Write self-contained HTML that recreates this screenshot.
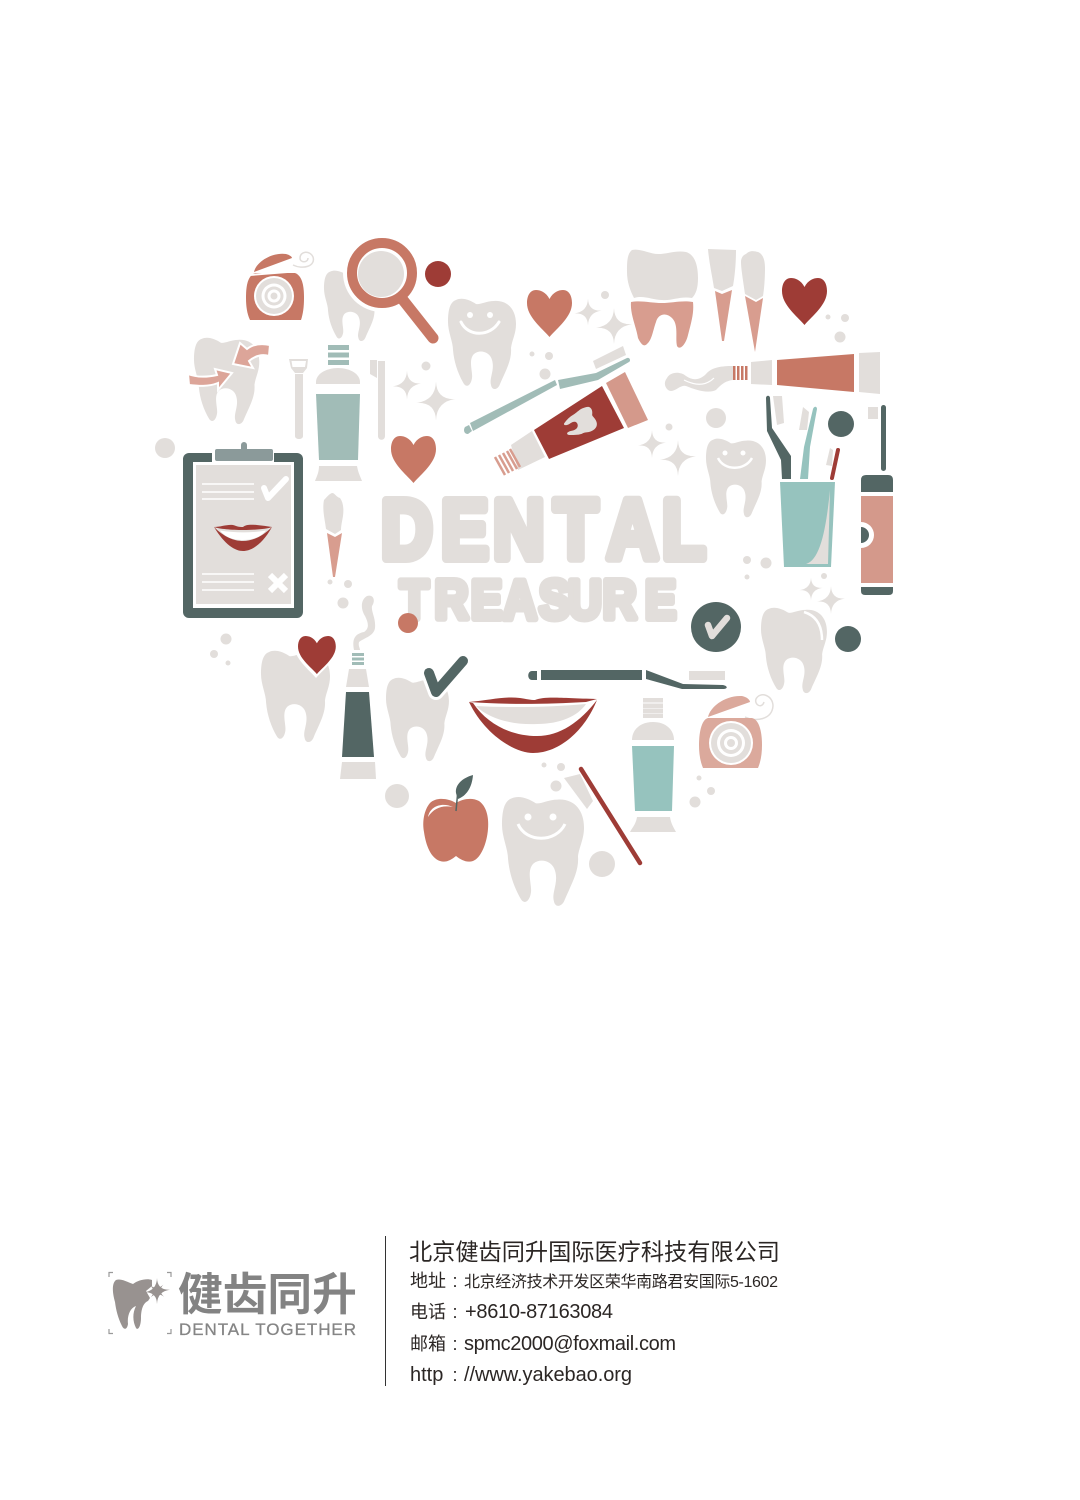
<!DOCTYPE html>
<html lang="zh">
<head>
<meta charset="utf-8">
<title>Dental Treasure</title>
<style>
html,body{margin:0;padding:0;background:#fff;width:1080px;height:1500px;overflow:hidden}
svg{display:block}
.g{fill:#e2dedb}.d{fill:#536664}.t{fill:#c77865}.s{fill:#d89d8f}.r{fill:#9e3c36}.q{fill:#96c3be}.q2{fill:#a1bcb7}
</style>
</head>
<body>
<svg width="1080" height="1500" viewBox="0 0 1080 1500" xmlns="http://www.w3.org/2000/svg">
<defs>
<path id="tooth" d="M8,2 C14,-1 22,2 28,6 C32,7 38,3 46,3 C60,2 68,12 68,26 C68,36 64,42 63,50 C64,62 58,72 52,86 C50,92 44,93 43,87 C41,80 47,72 44,62 C42,54 32,51 26,56 C20,62 25,74 24,80 C23,87 19,90 16,86 C10,76 6,64 5,52 C5,44 0,34 0,24 C0,12 2,4 8,2Z"/>
<path id="heart" d="M22.5,9 C19,2 13,0 9,0 C3,0 0,6 0,13 C0,27 15,38 22.5,47 C30,38 45,27 45,13 C45,6 42,0 36,0 C32,0 26,2 22.5,9Z"/>
<path id="sparkle" d="M0,-10 Q.3,-.5 10,-1 Q.3,.3 0,10 Q-.3,.5 -10,1 Q-.3,-.3 0,-10Z"/>
</defs>
<rect width="1080" height="1500" fill="#fff"/>

<g>
<g class="g">
<circle cx="165" cy="448" r="10"/><circle cx="426" cy="366" r="4.5"/><circle cx="330" cy="582" r="2.5"/><circle cx="348" cy="584" r="4"/><circle cx="343" cy="603" r="5.5"/>
<circle cx="605" cy="295" r="4"/><circle cx="532" cy="354" r="2.5"/><circle cx="549" cy="356" r="4"/><circle cx="545" cy="374" r="5.5"/><circle cx="828" cy="317" r="2.5"/><circle cx="845" cy="318" r="4"/><circle cx="840" cy="337" r="5.5"/><circle cx="716" cy="418" r="10"/><circle cx="669" cy="427" r="3.5"/><circle cx="747" cy="560" r="4"/><circle cx="766" cy="563" r="5.5"/><circle cx="747" cy="577" r="2.5"/><circle cx="824" cy="576" r="3"/>
<circle cx="226" cy="639" r="5.5"/><circle cx="214" cy="654" r="4"/><circle cx="228" cy="663" r="2.5"/><circle cx="397" cy="796" r="12"/>
<circle cx="544" cy="765" r="2.5"/><circle cx="561" cy="767" r="4"/><circle cx="556" cy="786" r="5.5"/><circle cx="602" cy="864" r="13"/><circle cx="699" cy="778" r="2.5"/><circle cx="711" cy="791" r="4"/><circle cx="695" cy="802" r="5.5"/>
</g>
<circle class="r" cx="438" cy="274" r="13"/>
<circle class="d" cx="841" cy="424" r="13"/>
<circle class="d" cx="848" cy="639" r="13"/>

<g class="g">
<use href="#sparkle" transform="translate(407,385) scale(1.45)"/><use href="#sparkle" transform="translate(436,401) scale(1.95)"/>
<use href="#sparkle" transform="translate(588,312) scale(1.35)"/><use href="#sparkle" transform="translate(614,326) scale(1.8)"/>
<use href="#sparkle" transform="translate(652,444) scale(1.4)"/><use href="#sparkle" transform="translate(678,458) scale(1.8)"/>
<use href="#sparkle" transform="translate(811,589) scale(1.15)"/><use href="#sparkle" transform="translate(831,600) scale(1.4)"/>
</g>

<g>
<use href="#tooth" class="g" transform="translate(448,298)"/>
<circle cx="470" cy="315" r="3" fill="#fff"/><circle cx="490" cy="315" r="3" fill="#fff"/>
<path d="M461,322 C468,337 490,337 499,322" fill="none" stroke="#fff" stroke-width="3" stroke-linecap="round"/>
</g>

<g>
<use href="#tooth" class="g" transform="translate(324,270) scale(.8,.78)"/>
<line x1="403" y1="300" x2="433" y2="338" stroke="#fff" stroke-width="16" stroke-linecap="round"/>
<circle cx="382" cy="273" r="39" fill="#fff"/>
<line x1="403" y1="300" x2="433" y2="338" stroke="#c77865" stroke-width="11" stroke-linecap="round"/>
<circle cx="382" cy="273" r="30" fill="#fff" stroke="#c77865" stroke-width="10"/>
<circle cx="381" cy="274" r="23" class="g"/>
</g>

<g>
<path d="M293,265 C303,270 316,266 313,257 C310,250 300,251 300,258 C300,263 308,263 308,258" fill="none" stroke="#e2dedb" stroke-width="1.5"/>
<path class="t" d="M255,273 L295,273 C303,276 304,288 304,298 C304,307 303,314 301,320 L250,320 C247,314 246,306 246,298 C246,288 247,276 255,273Z"/>
<path d="M250,275 L300,271" stroke="#fff" stroke-width="2"/>
<path class="t" d="M254,272 C256,262 272,252 286,254 C290,255 292,257 292,258 L254,272Z"/>
<circle cx="274" cy="296" r="20" fill="#fff"/><circle cx="274" cy="296" r="18" class="g"/><circle cx="274" cy="296" r="12.5" fill="#fff"/><circle cx="274" cy="296" r="9.5" class="g"/><circle cx="274" cy="296" r="6.5" fill="#fff"/><circle cx="274" cy="296" r="3.5" class="g"/>
</g>

<g>
<use href="#tooth" class="g" transform="translate(194,337) scale(.96,.957)"/>
<path fill="#dca599" stroke="#fff" stroke-width="2" d="M188,374 C198,378 208,377 217,375 L215,369 L232,373 L218,390 L218,383 C208,387 198,386 189,385Z"/>
<path fill="#dca599" stroke="#fff" stroke-width="2" d="M270,345 C260,343 252,345 247,349 L240,343 L233,364 L253,368 L249,361 C255,356 262,354 269,356Z"/>
</g>

<g>
<g class="q2"><rect x="328" y="345" width="21" height="5"/><rect x="328" y="352.5" width="21" height="5"/><rect x="328" y="360" width="21" height="5"/></g>
<path class="g" d="M316,384 L316,382 C316,374 326,368 338,368 C350,368 360,374 360,382 L360,384Z"/>
<path class="q2" d="M316,394 L360,394 L358,460 L319,460Z"/>
<path class="g" d="M319,466 L357,466 C358,472 360,476 362,481 L315,481 C317,476 319,472 319,466Z"/>
</g>

<g class="g">
<path fill-rule="evenodd" d="M289,359 L308,359 L307,368 L303,373 L295,373 L291,368Z M291.500,361 L292.500,367 L305,367 L306,361Z"/>
<path d="M295,374 L303,374 L303,436 C303,440 295,440 295,436Z"/>
<path d="M370,360 L377,360 L377,378 L370,374Z"/><path d="M378,361 L385,361 L385,436 C385,441 378,441 378,436Z"/>
</g>

<use href="#heart" class="t" transform="translate(391,436)"/>
<use href="#heart" class="t" transform="translate(527,290)"/>
<use href="#heart" class="r" transform="translate(782,278)"/>

<g>
<rect class="d" x="183" y="453" width="120" height="165" rx="6"/>
<rect x="193" y="462" width="101" height="146" fill="#fff"/>
<rect class="g" x="196" y="465" width="95" height="139"/>
<rect x="212" y="452" width="62" height="11" fill="#fff"/>
<rect x="241" y="442" width="6" height="10" rx="3" fill="#8b9a9a"/>
<rect x="215" y="449" width="58" height="12" rx="2" fill="#8b9a9a"/>
<g stroke="#fff" stroke-width="1.500"><line x1="202" y1="484" x2="254" y2="484"/><line x1="202" y1="492" x2="254" y2="492"/><line x1="202" y1="499" x2="254" y2="499"/><line x1="202" y1="574" x2="254" y2="574"/><line x1="202" y1="582" x2="254" y2="582"/><line x1="202" y1="590" x2="254" y2="590"/></g>
<path d="M264,488 L268,498 L286,479" fill="none" stroke="#fff" stroke-width="6" stroke-linecap="round" stroke-linejoin="round"/>
<path d="M270,575 L286,591 M286,575 L270,591" stroke="#fff" stroke-width="6"/>
<path class="r" d="M214,527 C225,545 235,551 243,551 C251,551 262,545 272,527 C262,537 252,541 243,541 C234,541 224,537 214,527Z"/>
<path class="r" d="M214,527 C222,527 230,523 236,526 C239,527 241,527 243,527 C247,523 258,525 272,527 C262,531 225,531 214,527 Z"/>
<path d="M220,530.500 C235,533 252,533 266,530.500 C260,538 251,540 243,540 C234,540 226,538 220,530.500Z" fill="#fff"/>
</g>

<g>
<path class="g" d="M332,493 C335,493 336,497 340,498 C343,502 344,508 343,516 C342,522 341,526 341,530 L335,534 L326,529 C325,520 322,510 324,500 C327,497 329,494 332,493Z"/>
<path class="s" d="M327,533 L335,537 L342,533 L335,577 L333,577Z"/>
</g>

<g>
<path class="g" d="M632,250 C640,248 650,254 658,254 C668,254 676,250 686,252 C696,255 698,268 698,278 C698,288 696,294 692,298 C680,296 672,301 662,300 C652,300 644,295 634,298 C630,290 627,282 627,272 C627,262 627,254 632,250Z"/>
<path class="s" d="M631,302 C641,300 651,303 662,303 C672,303 682,300 693,302 C694,312 692,320 688,335 C686,344 680,351 677,346 C675,338 679,325 672,318 C666,312 658,314 656,322 C653,330 652,340 647,344 C643,348 640,342 638,338 C636,326 630,314 631,302Z"/>
</g>
<g>
<path class="g" d="M708,249 L736,250 C736,262 735,275 733,286 L722,291 L714,288 C712,275 709,262 708,249Z"/>
<path class="s" d="M715,291 L722,294 L732,290 L724,341 L722,341Z"/>
<path class="g" d="M746,254 C750,250 754,251 758,252 C763,254 765,260 765,268 C765,280 764,290 763,296 L756,300 L745,294 C743,280 741,268 741,262 C741,258 743,255 746,254Z"/>
<path class="s" d="M745,296 L756,302 L763,298 L755,352Z"/>
</g>

<g>
<path class="q2" d="M465,427 L469,425 L472,431 L468,434 C464,434 463,430 465,427Z"/>
<path class="q2" d="M470,423 L555,380 L557,385 L473,431Z"/>
<path class="q2" d="M558,380 L596,373 L627,358 C630,357 631,361 629,362 L598,380 L560,389Z"/>
<path class="g" d="M593,361 L623,346 L626,355 L596,369Z"/>
</g>

<g>
<path class="r" d="M534,430 L602,386 L624,428 L549,459Z"/>
<path fill="#d4998b" d="M606,383 L625,372 L648,420 L628,428Z"/>
<path class="g" d="M511,445 L532,431 L545,457 L518,470Z"/>
<g stroke="#d89d8f" stroke-width="2.500"><line x1="495" y1="457" x2="505" y2="475"/><line x1="499" y1="455" x2="509" y2="473"/><line x1="503" y1="453" x2="513" y2="471"/><line x1="507" y1="451" x2="517" y2="469"/><line x1="510" y1="449" x2="520" y2="467"/></g>
<use href="#tooth" class="g" transform="translate(580,423) rotate(65) scale(.36) translate(-34,-46)"/>
</g>

<g>
<path class="g" d="M667,378 C670,372 680,371 686,376 C693,381 700,380 706,374 C712,367 722,366 733,366 L733,380 C724,381 720,386 716,390 C708,394 696,390 686,386 C680,384 674,394 668,390 C664,386 664,382 667,378Z"/>
<path d="M684,380 C696,386 706,386 714,378" stroke="#fff" stroke-width="1.200" fill="none"/>
<g class="t"><rect x="733" y="366" width="2.500" height="14"/><rect x="737" y="366" width="2.500" height="14"/><rect x="741" y="366" width="2.500" height="14"/><rect x="745" y="366" width="2.500" height="14"/></g>
<path class="g" d="M751,362 L772,360 L772,385 L751,384Z"/>
<path class="t" d="M777,360 L854,354 L854,392 L777,385Z"/>
<path class="g" d="M859,353 L880,352 L880,394 L859,392Z"/>
</g>

<g>
<use href="#tooth" class="g" transform="translate(706,438) scale(.882,.87)"/>
<circle cx="725" cy="453" r="2.500" fill="#fff"/><circle cx="743" cy="453" r="2.500" fill="#fff"/>
<path d="M718,458 C724,471 745,471 752,458" fill="none" stroke="#fff" stroke-width="2.500"/>
</g>

<g>
<path class="d" d="M766,398 C766,395 770,395 770,398 L772,428 L791,456 L791,479 L782,479 L781,460 L767,431Z"/>
<path class="q" d="M813,409 C814,406 817,406 817,409 L810,447 L808,479 L800,479 L804,447Z"/>
<path d="M838,450 L832,478" fill="none" stroke="#9e3c36" stroke-width="4" stroke-linecap="round"/>
<path class="g" d="M773,396 L782,396 L784,423 L777,425Z"/><path class="g" d="M803,407 L809,412 L807,430 L799,430Z"/><path class="g" d="M830,448 L833,450 L832,466 L826,465Z"/>
<path class="q" d="M780,482 L835,482 L831,567 L784,567Z"/>
<path class="g" d="M830,490 L828,564 L806,564 C820,560 826,530 830,490Z"/>
</g>

<g>
<rect class="g" x="868" y="407" width="10" height="12"/>
<rect class="d" x="881" y="405" width="5" height="66" rx="2.500"/>
<path class="d" d="M861,480 Q861,475 866,475 L888,475 Q893,475 893,480 L893,492 L861,492Z"/>
<rect x="861" y="496" width="32" height="87" fill="#d4998b"/>
<path class="d" d="M861,587 L893,587 L893,591 Q893,595 889,595 L865,595 Q861,595 861,591Z"/>
<path d="M861,522 A13,13 0 0 1 861,548Z" fill="#fff"/><path d="M861,527 A8,8 0 0 1 861,543Z" class="d"/>
</g>

<text transform="translate(0,558.500) scale(.85,1)" x="448.200 518.800 580 651.800 713.900 778.800" y="0" font-family="Liberation Sans, sans-serif" font-weight="700" font-size="84" fill="#e2dedb" stroke="#e2dedb" stroke-width="9" stroke-linejoin="round">DENTAL</text>
<text transform="translate(0,618.500) scale(.85,1)" x="470.600 511.400 554.100 591.800 634.100 668.200 709.100 758.800" y="0" font-family="Liberation Sans, sans-serif" font-weight="700" font-size="55" fill="#e2dedb" stroke="#e2dedb" stroke-width="7" stroke-linejoin="round">TREASURE</text>
<circle class="t" cx="408" cy="623" r="10"/>

<g>
<circle class="d" cx="716" cy="627" r="25"/>
<path d="M708,625 L712,636 L727,618" fill="none" stroke="#e2dedb" stroke-width="6.500" stroke-linecap="round" stroke-linejoin="round"/>
</g>

<g>
<use href="#tooth" class="g" transform="translate(761,607) scale(.97,.946)"/>
<path d="M804,612 C817,616 822,626 822,640" fill="none" stroke="#fff" stroke-width="2.500"/>
</g>

<g>
<use href="#tooth" class="g" transform="translate(261,650) scale(1.015,1.011)"/>
<use href="#heart" fill="#fff" transform="translate(294,632) scale(.98)"/>
<use href="#heart" class="r" transform="translate(298,636) scale(.84,.81)"/>
</g>

<g>
<path class="g" d="M354,650 C352,640 354,634 364,632 C370,628 368,622 365,616 C361,610 360,600 367,596 C373,594 376,600 372,606 C371,612 376,618 375,628 C374,636 364,638 359,642 C358,646 360,648 360,650Z"/>
<g class="q2"><rect x="352" y="653" width="12" height="3"/><rect x="352" y="657.500" width="12" height="3"/><rect x="352" y="662" width="12" height="3"/></g>
<path class="g" d="M349,669 L366,669 L369,687 L346,687Z"/>
<path class="d" d="M346,692 L369,692 L374,757 L342,757Z"/>
<path class="g" d="M342,762 L375,762 L376,779 L340,779Z"/>
</g>

<g>
<use href="#tooth" class="g" transform="translate(386,677) scale(.926,.924)"/>
<path d="M429,673 L436,692 L463,661" fill="none" stroke="#fff" stroke-width="16" stroke-linecap="round" stroke-linejoin="round"/>
<path d="M429,673 L436,692 L463,661" fill="none" stroke="#536664" stroke-width="10" stroke-linecap="round" stroke-linejoin="round"/>
</g>

<g>
<path class="d" d="M532,671 L537,671 L537,680 L532,680 C527,680 527,671 532,671Z"/>
<rect class="d" x="541" y="670" width="101" height="10"/>
<path class="d" d="M646,670 L683,684 L723,685 C728,686 728,689 723,689 L682,689 L646,679Z"/>
<rect class="g" x="689" y="671" width="36" height="9"/>
</g>

<g>
<path class="r" d="M469,702 C485,735 515,753 533,753 C560,753 585,730 597,700 C580,722 560,736 537,736 C512,736 488,725 473,703Z"/>
<path class="r" d="M469,702 C490,700 505,696 520,698 C527,699 530,700 535,700 C545,696 560,698 597,699 L586,702 C550,704 510,705 469,702Z"/>
<path class="g" d="M476,706 C510,708 555,707 586,704 C578,716 560,724 537,724 C515,725 490,720 476,706Z"/>
</g>

<g>
<path class="t" d="M456,803 C448,798 436,797 430,803 C424,810 422,822 424,832 C426,846 431,858 440,861 C446,863 451,860 456,856 C461,860 467,863 473,861 C481,858 487,843 488,829 C489,816 486,806 479,801 C472,797 462,799 456,803Z"/>
<path d="M428,817 C430,806 442,802 453,807 C442,805 434,808 428,817Z" fill="#fff"/>
<path class="d" d="M473,775 C462,778 455,785 456,793 C457,797 458,798 458,799 C466,796 472,788 473,775Z"/>
<path d="M457.500,795 L456,811" stroke="#536664" stroke-width="1.500"/>
</g>

<g>
<path class="g" d="M564,778 L580,774 L593,801 L587,809Z"/>
<use href="#tooth" class="g" transform="translate(502,796) scale(1.206,1.207)"/>
<circle cx="528" cy="817" r="3.500" fill="#fff"/><circle cx="553" cy="817" r="3.500" fill="#fff"/>
<path d="M518,824 C526,843 556,843 565,824" fill="none" stroke="#fff" stroke-width="3"/>
<line x1="581" y1="769" x2="640" y2="863" stroke="#9e3c36" stroke-width="4.500" stroke-linecap="round"/>
</g>

<g>
<g class="g"><rect x="643" y="698" width="20" height="4.500"/><rect x="643" y="703.500" width="20" height="4.500"/><rect x="643" y="708.500" width="20" height="4.500"/><rect x="643" y="713.500" width="20" height="4.500"/></g>
<path class="g" d="M632,740 C632,730 640,722 653,722 C666,722 674,730 674,740Z"/>
<path class="q" d="M632,746 L674,746 L672,811 L635,811Z"/>
<path class="g" d="M637,817 L670,817 C671,824 674,828 676,832 L630,832 C632,828 636,824 637,817Z"/>
</g>

<g>
<path d="M745,717 C755,722 772,720 773,706 C773,695 760,691 756,699 C754,705 762,709 764,702" fill="none" stroke="#e2dedb" stroke-width="1.500"/>
<path fill="#dba99c" d="M708,718 L752,718 C760,720 762,734 762,745 C762,753 761,761 758,768 L703,768 C700,761 699,753 699,745 C699,734 701,720 708,718Z"/>
<path fill="#dba99c" d="M708,717 C710,707 725,695 742,696 C747,697 750,700 750,702 L708,717Z"/>
<circle cx="731" cy="743" r="22" fill="#fff"/><circle cx="731" cy="743" r="20" class="g"/><circle cx="731" cy="743" r="14" fill="#fff"/><circle cx="731" cy="743" r="11" class="g"/><circle cx="731" cy="743" r="7" fill="#fff"/><circle cx="731" cy="743" r="4" class="g"/>
</g>
</g>

<g>
<g fill="none" stroke="#9a9a9a" stroke-width="1.200">
<path d="M109,1277 L109,1272.500 L113,1272.500"/><path d="M167,1272.500 L171,1272.500 L171,1277"/><path d="M109,1329 L109,1333.500 L113,1333.500"/><path d="M167,1333.500 L171,1333.500 L171,1329"/>
</g>
<path fill="#989290" d="M116,1280 C121,1278 127,1282 133,1284 C138,1280 147,1278 152,1280 L152,1286 L146,1291 L150,1298 L148,1301 C143,1303 141,1310 141,1318 C141,1326 138,1331 136,1328 C133,1322 132,1314 136,1306 C130,1308 127,1316 128,1324 C127,1330 124,1330 122,1326 C118,1318 116,1310 115,1302 C113,1295 111,1284 116,1280Z"/>
<g fill="#989290">
<use href="#sparkle" transform="translate(157,1291) scale(1.300)"/>
<use href="#sparkle" transform="translate(157,1291) rotate(45) scale(.9)"/>
<circle cx="157" cy="1291" r="4"/>
</g>
<text x="178" y="1310" font-family="Liberation Sans, Noto Sans CJK SC, sans-serif" font-size="44.700" font-weight="700" fill="#838383">健齿同升</text>
<text x="179" y="1335" font-family="Liberation Sans, sans-serif" font-size="17" fill="#858585" stroke="#858585" stroke-width=".3" textLength="177" lengthAdjust="spacing">DENTAL TOGETHER</text>
</g>

<line x1="385.500" y1="1236" x2="385.500" y2="1386" stroke="#333" stroke-width="1"/>

<g font-family="Liberation Sans, Noto Sans CJK SC, sans-serif" fill="#2b2624">
<text x="409" y="1260" font-size="23.200">北京健齿同升国际医疗科技有限公司</text>
<text x="410" y="1287" font-size="18">地址<tspan x="452.500">:</tspan></text>
<text x="464" y="1287" font-size="16" textLength="314">北京经济技术开发区荣华南路君安国际5-1602</text>
<text x="410" y="1318" font-size="18">电话<tspan x="452.500">:</tspan></text>
<text x="465" y="1318" font-size="20" textLength="148">+8610-87163084</text>
<text x="410" y="1350" font-size="18">邮箱<tspan x="452.500">:</tspan></text>
<text x="464" y="1350" font-size="20" textLength="212">spmc2000@foxmail.com</text>
<text x="410" y="1381" font-size="20">http<tspan x="452.500" font-size="18">:</tspan></text>
<text x="464" y="1381" font-size="20" textLength="168">//www.yakebao.org</text>
</g>
</svg>
</body>
</html>
